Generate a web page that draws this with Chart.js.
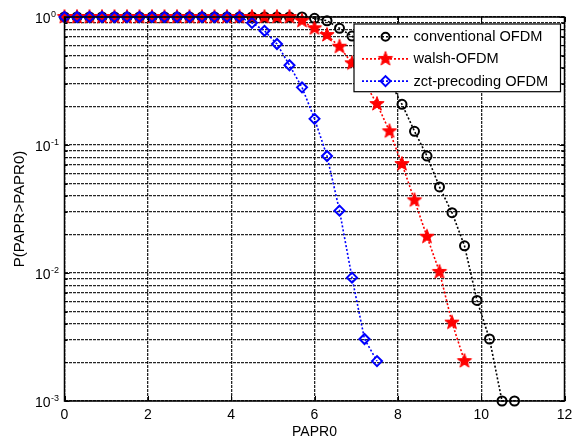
<!DOCTYPE html>
<html><head><meta charset="utf-8">
<script src="https://cdn.jsdelivr.net/npm/chart.js@4.4.1/dist/chart.umd.min.js"></script>
<style>html,body{margin:0;padding:0;background:#fff;}#wrap{width:573px;height:443px;}</style>
</head><body><div id="wrap"><canvas id="c" width="573" height="443"></canvas></div>
<script>
// ---- data ----
const papr0 = [0,0.3,0.6,0.9,1.2,1.5,1.8,2.1,2.4,2.7,3.0,3.3,3.6,3.9,4.2,4.5,4.8,5.1,5.4,5.7,6.0,6.3,6.6,6.9,7.2,7.5,7.8,8.1,8.4,8.7,9.0,9.3,9.6,9.9,10.2,10.5,10.8];
const conventional = [1,1,1,1,1,1,1,1,1,1,1,1,1,1,1,1,1,1,1,1,0.977,0.935,0.816,0.71,0.58,0.445,0.316,0.208,0.128,0.082,0.047,0.0296,0.0163,0.0061,0.00305,0.001,0.001];
const walsh = [1,1,1,1,1,1,1,1,1,1,1,1,1,1,1,1,1,1,1,0.935,0.816,0.723,0.586,0.435,0.31,0.209,0.128,0.071,0.037,0.0192,0.0102,0.0041,0.00205];
const zct = [1,1,1,1,1,1,1,1,1,1,1,1,1,1,1,0.90,0.78,0.615,0.42,0.282,0.16,0.082,0.0307,0.0092,0.00305,0.00205];
const seriesNames = ['conventional OFDM','walsh-OFDM','zct-precoding OFDM'];
const xTicks = [0,2,4,6,8,10,12];
const yTicks = [0.001,0.002,0.003,0.004,0.005,0.006,0.007,0.008,0.009,0.01,0.02,0.03,0.04,0.05,0.06,0.07,0.08,0.09,0.1,0.2,0.3,0.4,0.5,0.6,0.7,0.8,0.9,1];
const yLabelExps = ['0','-1','-2','-3'];
const xTitle = 'PAPR0';
const yTitle = 'P(PAPR>PAPR0)';

// ---- styling ----
const FONT = "'Liberation Sans', Arial, Helvetica, sans-serif";
Chart.defaults.font.family = FONT;
Chart.defaults.font.size = 14;
Chart.defaults.color = '#000';

function makeStar(color, R, r) {
  const s = 20;
  const c = document.createElement('canvas');
  c.width = s; c.height = s;
  const g = c.getContext('2d');
  g.beginPath();
  for (let k = 0; k < 10; k++) {
    const a = -Math.PI / 2 + k * Math.PI / 5;
    const rad = (k % 2) ? r : R;
    g.lineTo(s / 2 + rad * Math.cos(a), s / 2 + rad * Math.sin(a));
  }
  g.closePath();
  g.fillStyle = color; g.fill();
  g.lineWidth = 1; g.strokeStyle = color; g.stroke();
  return c;
}
const starImg = makeStar('#ff0000', 7.5, 3.1);

function pairs(vals) { return vals.map((v, i) => ({x: papr0[i], y: v})); }

const GRID_COLOR = 'rgba(0,0,0,0.85)';

const framePlugin = {
  id: 'frame',
  afterDraw(chart) {
    const {ctx, chartArea: a, scales} = chart;
    const xs = scales.x, ys = scales.y;
    ctx.save();
    // inward ticks
    ctx.strokeStyle = '#000'; ctx.lineWidth = 1;
    ctx.beginPath();
    xTicks.forEach(v => {
      const px = Math.round(xs.getPixelForValue(v)) + 0.5;
      ctx.moveTo(px, a.bottom); ctx.lineTo(px, a.bottom - 5);
      ctx.moveTo(px, a.top); ctx.lineTo(px, a.top + 5);
    });
    yTicks.forEach(v => {
      const py = Math.round(ys.getPixelForValue(v)) + 0.5;
      const major = Math.abs(Math.log10(v) - Math.round(Math.log10(v))) < 1e-9;
      const L = major ? 5 : 3;
      ctx.moveTo(a.left, py); ctx.lineTo(a.left + L, py);
      ctx.moveTo(a.right, py); ctx.lineTo(a.right - L, py);
    });
    ctx.stroke();
    // box
    ctx.lineWidth = 1.5;
    ctx.strokeRect(a.left, a.top, a.right - a.left, a.bottom - a.top);
    // y tick labels 10^n
    ctx.fillStyle = '#000';
    yLabelExps.forEach(e => {
      const py = ys.getPixelForValue(Math.pow(10, Number(e)));
      ctx.font = '14px ' + FONT;
      ctx.textAlign = 'right'; ctx.textBaseline = 'alphabetic';
      ctx.fillText('10', a.left - 14, py + 5.7);
      ctx.font = '9px ' + FONT;
      ctx.textAlign = 'left';
      ctx.fillText(e, a.left - 13.5, py - 0.3);
    });
    // legend
    const lw = 206.5, lh = 67.7;
    const lx = a.right - 4 - lw, ly = a.top + 7;
    ctx.fillStyle = '#fff';
    ctx.fillRect(lx, ly, lw, lh);
    ctx.lineWidth = 1.2; ctx.strokeStyle = '#000';
    ctx.strokeRect(lx, ly, lw, lh);
    const ds = chart.data.datasets;
    [0, 1, 2].forEach((di, row) => {
      const d = ds[di];
      const cy = ly + 12.7 + row * 22.2;
      const x1 = lx + 8, x2 = lx + 56, cx = lx + 31.5;
      ctx.save();
      ctx.strokeStyle = d.borderColor; ctx.lineWidth = d.borderWidth;
      ctx.setLineDash(d.borderDash);
      ctx.beginPath(); ctx.moveTo(x1, cy); ctx.lineTo(x2, cy); ctx.stroke();
      ctx.restore();
      ctx.save();
      if (d.pointStyle instanceof HTMLCanvasElement) {
        const im = d.pointStyle;
        ctx.drawImage(im, cx - im.width / 2, cy - im.height / 2);
      } else {
        ctx.strokeStyle = d.pointBorderColor; ctx.lineWidth = d.pointBorderWidth;
        ctx.beginPath();
        if (d.pointStyle === 'circle') {
          ctx.arc(cx, cy, d.pointRadius - 0.5, 0, Math.PI * 2);
        } else {
          const r = d.pointRadius;
          ctx.moveTo(cx - r, cy); ctx.lineTo(cx, cy - r); ctx.lineTo(cx + r, cy); ctx.lineTo(cx, cy + r); ctx.closePath();
        }
        ctx.stroke();
      }
      ctx.restore();
      ctx.fillStyle = '#000';
      ctx.font = '14.6px ' + FONT;
      ctx.textAlign = 'left'; ctx.textBaseline = 'middle';
      ctx.fillText(d.label, lx + 59.5, cy + 0.5);
    });
    ctx.restore();
  }
};

const common = {borderWidth: 1.6, borderDash: [2, 2], fill: false, tension: 0, clip: false, showLine: true};

new Chart(document.getElementById('c'), {
  type: 'line',
  data: {
    datasets: [
      Object.assign({}, common, {
        label: seriesNames[0], data: pairs(conventional),
        borderColor: '#000000', backgroundColor: '#000000',
        pointStyle: 'circle', pointRadius: 4.5, pointBorderWidth: 2,
        pointBackgroundColor: 'rgba(0,0,0,0)', pointBorderColor: '#000000', order: 3
      }),
      Object.assign({}, common, {
        label: seriesNames[1], data: pairs(walsh),
        borderColor: '#ff0000', backgroundColor: '#ff0000',
        pointStyle: starImg, pointRadius: 7, pointBorderWidth: 1,
        pointBackgroundColor: '#ff0000', pointBorderColor: '#ff0000', order: 2
      }),
      Object.assign({}, common, {
        label: seriesNames[2], data: pairs(zct),
        borderColor: '#0000ff', backgroundColor: '#0000ff',
        pointStyle: 'rectRot', pointRadius: 5, pointBorderWidth: 2,
        pointBackgroundColor: 'rgba(0,0,0,0)', pointBorderColor: '#0000ff', order: 1
      })
    ]
  },
  options: {
    responsive: false,
    animation: false,
    devicePixelRatio: 1,
    layout: {padding: {top: 17, right: 8.5, bottom: 0, left: 0}},
    plugins: {legend: {display: false}, tooltip: {enabled: false}},
    elements: {point: {hoverRadius: 5}},
    scales: {
      x: {
        type: 'linear', min: 0, max: 12,
        afterBuildTicks: s => { s.ticks = xTicks.map(v => ({value: v})); },
        grid: {color: GRID_COLOR, lineWidth: 1.3, drawTicks: false},
        border: {display: false, dash: [3, 1]},
        ticks: {color: '#000', font: {size: 14}, padding: 6, maxRotation: 0, autoSkip: false},
        title: {display: true, text: xTitle, color: '#000', font: {size: 14}, padding: {top: 0, bottom: 2}},
        afterFit: s => { s.height = 42; s.paddingLeft = 0; s.paddingRight = 0; }
      },
      y: {
        type: 'logarithmic', min: 0.001, max: 1,
        afterBuildTicks: s => { s.ticks = yTicks.map(v => ({value: v})); },
        grid: {color: GRID_COLOR, lineWidth: 1.3, drawTicks: false},
        border: {display: false, dash: [3, 1]},
        ticks: {display: false},
        title: {display: true, text: yTitle, color: '#000', font: {size: 15}, padding: {top: 11, bottom: 0}},
        afterFit: s => { s.width = 64.5; s.paddingTop = 0; s.paddingBottom = 0; }
      }
    }
  },
  plugins: [framePlugin]
});
</script>
</body></html>
